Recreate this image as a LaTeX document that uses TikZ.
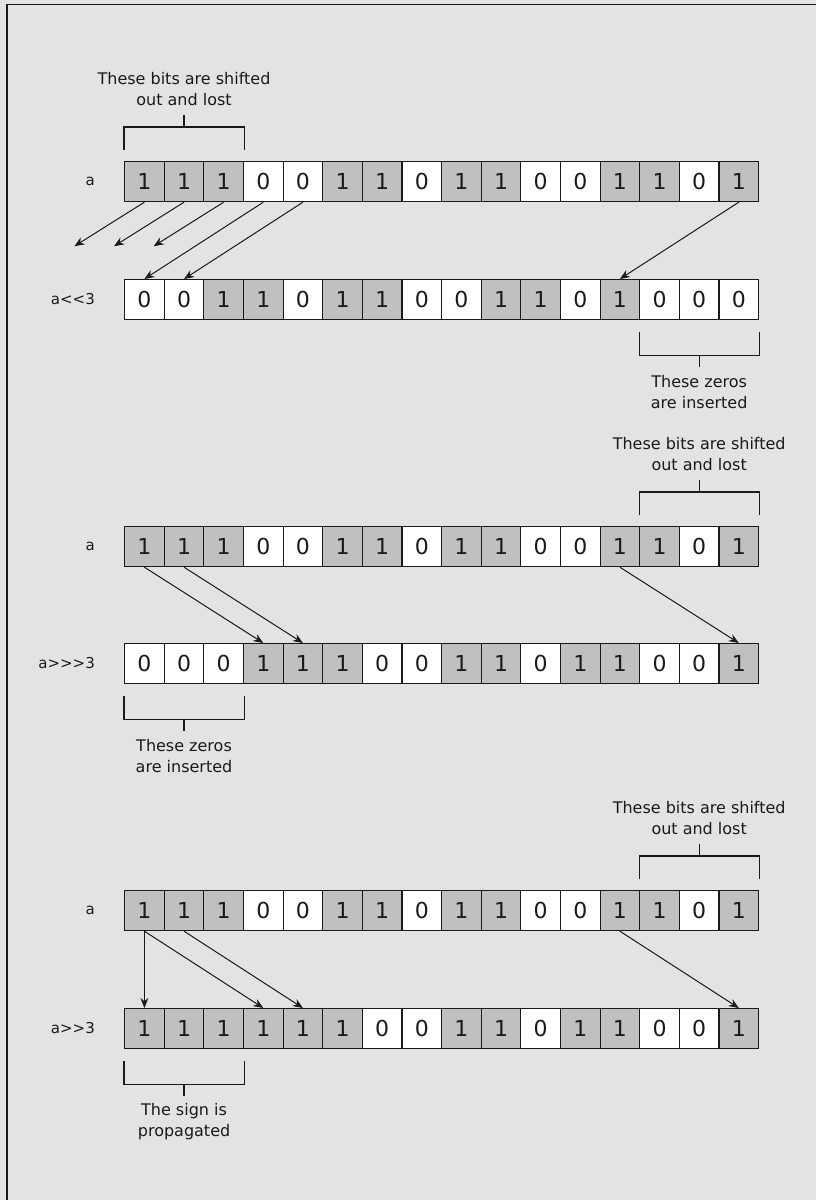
\documentclass[tikz,border=0pt]{standalone}
\usepackage{fontspec}
\setmainfont{DejaVu Sans}[Ligatures=TeXOff]
\usetikzlibrary{arrows.meta,calc}
\definecolor{bg}{HTML}{E3E3E3}
\definecolor{shade}{HTML}{C0C0C0}
\definecolor{ink}{HTML}{1A1A1A}

\newcommand\bitrow[3]{%
  \foreach \b [count=\i from 0] in {#3} {
    \ifnum\b=1
      \node[one] (#1c\i) at ({124+\i*39.625},#2) {1};
    \else
      \node[zero] (#1c\i) at ({124+\i*39.625},#2) {0};
    \fi
  }}
\newcommand\topbracket[4]{%
  \draw[bracket] ([yshift=11pt]#1.north west) -- ([yshift=34pt]#1.north west)
     -- ([yshift=34pt]#2.north east) -- ([yshift=11pt]#2.north east);
  \coordinate (#4t) at ($([yshift=34pt]#1.north west)!0.5!([yshift=34pt]#2.north east)$);
  \draw[bracket] (#4t) -- ++(0,-12);
  \node[note] (#4) at ($(#4t)+(0,-37.5)$) {#3};}
\newcommand\botbracket[4]{%
  \draw[bracket] ([yshift=-12pt]#1.south west) -- ([yshift=-35pt]#1.south west)
     -- ([yshift=-35pt]#2.south east) -- ([yshift=-12pt]#2.south east);
  \coordinate (#4t) at ($([yshift=-35pt]#1.south west)!0.5!([yshift=-35pt]#2.south east)$);
  \draw[bracket] (#4t) -- ++(0,12);
  \node[note] (#4) at ($(#4t)+(0,37)$) {#3};}

\begin{document}
\begin{tikzpicture}[x=1pt,y=-1pt,
  bitcell/.style={draw=ink, line width=1.2pt, minimum width=39.625pt,
     minimum height=40pt, inner sep=0pt, anchor=north west,
     font=\fontsize{22}{22}\selectfont, text=ink},
  one/.style={bitcell, fill=shade},
  zero/.style={bitcell, fill=white},
  rowlabel/.style={anchor=east, font=\fontsize{15}{18}\selectfont, text=ink, inner sep=0pt},
  note/.style={align=center, font=\fontsize{16}{21}\selectfont, text=ink, inner sep=0pt},
  shiftarrow/.style={-{Stealth[length=10pt,width=8pt]}, line width=1pt, draw=ink},
  bracket/.style={line width=1.1pt, draw=ink}]

\useasboundingbox (0,0) rectangle (816,1200);
\fill[bg] (0,0) rectangle (816,1200);
\draw[line width=1.4pt, draw=ink] (7,1201) -- (7,4.5) -- (817,4.5);

% rows
\bitrow{ra}{161}{1,1,1,0,0,1,1,0,1,1,0,0,1,1,0,1}
\bitrow{rb}{279}{0,0,1,1,0,1,1,0,0,1,1,0,1,0,0,0}
\bitrow{rc}{526}{1,1,1,0,0,1,1,0,1,1,0,0,1,1,0,1}
\bitrow{rd}{643}{0,0,0,1,1,1,0,0,1,1,0,1,1,0,0,1}
\bitrow{re}{890}{1,1,1,0,0,1,1,0,1,1,0,0,1,1,0,1}
\bitrow{rf}{1008}{1,1,1,1,1,1,0,0,1,1,0,1,1,0,0,1}

% row labels
\node[rowlabel] (la) at (95,181) {a};
\node[rowlabel] (lb) at (95,299) {a<<3};
\node[rowlabel] (lc) at (95,546) {a};
\node[rowlabel] (ld) at (95,663) {a>>>3};
\node[rowlabel] (le) at (95,910) {a};
\node[rowlabel] (lf) at (95,1028) {a>>3};

% section 1 arrows
\coordinate (lost0) at ($(rac0.south)+(-70,44)$);
\coordinate (lost1) at ($(rac1.south)+(-70,44)$);
\coordinate (lost2) at ($(rac2.south)+(-70,44)$);
\draw[shiftarrow] (rac0.south) -- (lost0);
\draw[shiftarrow] (rac1.south) -- (lost1);
\draw[shiftarrow] (rac2.south) -- (lost2);
\draw[shiftarrow] (rac3.south) -- (rbc0.north);
\draw[shiftarrow] (rac4.south) -- (rbc1.north);
\draw[shiftarrow] (rac15.south) -- (rbc12.north);

% section 2 arrows
\draw[shiftarrow] (rcc0.south) -- (rdc3.north);
\draw[shiftarrow] (rcc1.south) -- (rdc4.north);
\draw[shiftarrow] (rcc12.south) -- (rdc15.north);

% section 3 arrows
\draw[shiftarrow] (rec0.south) -- (rfc0.north);
\draw[shiftarrow] (rec0.south) -- (rfc3.north);
\draw[shiftarrow] (rec1.south) -- (rfc4.north);
\draw[shiftarrow] (rec12.south) -- (rfc15.north);

% brackets
\topbracket{rac0}{rac2}{These bits are shifted\\out and lost}{n1}
\botbracket{rbc13}{rbc15}{These zeros\\are inserted}{n2}
\topbracket{rcc13}{rcc15}{These bits are shifted\\out and lost}{n3}
\botbracket{rdc0}{rdc2}{These zeros\\are inserted}{n4}
\topbracket{rec13}{rec15}{These bits are shifted\\out and lost}{n5}
\botbracket{rfc0}{rfc2}{The sign is\\propagated}{n6}

\end{tikzpicture}
\end{document}
